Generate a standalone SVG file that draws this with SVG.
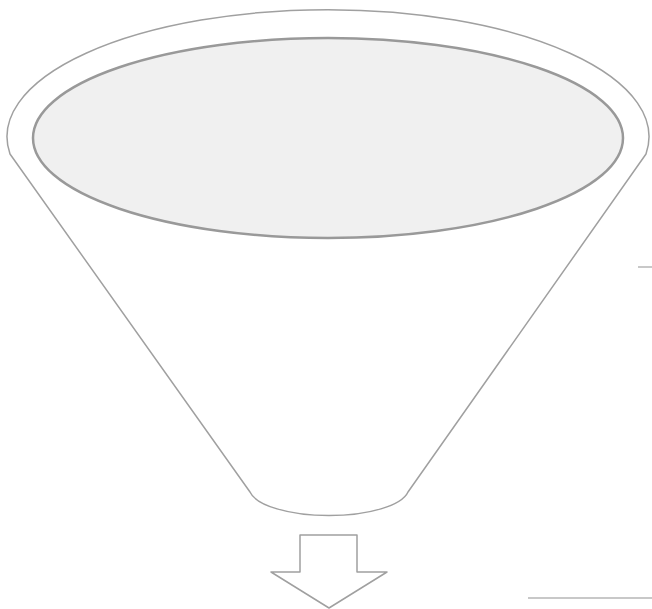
<svg xmlns="http://www.w3.org/2000/svg" width="652" height="609" viewBox="0 0 652 609">
<style>
.outline{fill:#ffffff;stroke:#a0a0a0;stroke-width:1.5;stroke-linejoin:round}
.mouth{fill:#f0f0f0;stroke:#999999;stroke-width:2.5}
.rule{stroke:#c8c8c8;stroke-width:2;fill:none}
</style>
<rect width="652" height="609" fill="#ffffff"/>
<g id="funnel">
<path class="outline" d="M 10,154 A 321 127 0 1 1 646,154 L 408,492 A 80 28 0 0 1 250,492 Z"/>
</g>
<g id="mouth">
<ellipse class="mouth" cx="328" cy="138" rx="295" ry="100"/>
</g>
<g id="arrow">
<path class="outline" d="M 300,535 L 357,535 L 357,572 L 387,572 L 329,608 L 271,572 L 300,572 Z"/>
</g>
<g id="connectors">
<line class="rule" x1="638" y1="267" x2="652" y2="267"/>
<line class="rule" x1="528" y1="598" x2="652" y2="598"/>
</g>
</svg>
